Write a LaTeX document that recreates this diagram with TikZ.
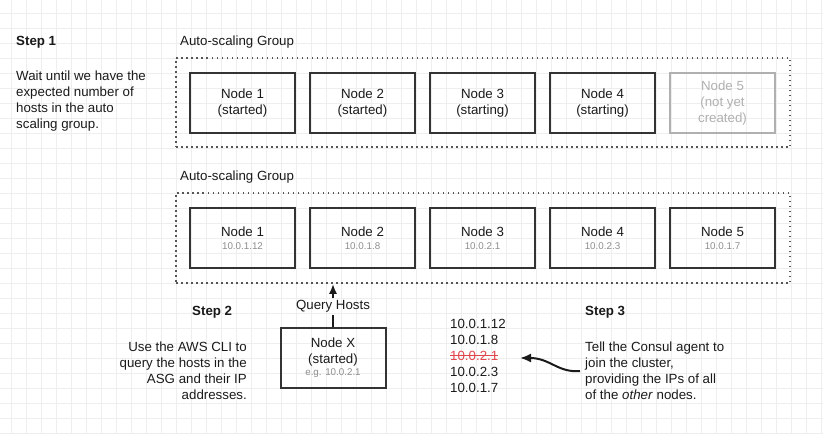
\documentclass[tikz,border=0pt]{standalone}
\usepackage{fontspec}
\setmainfont{Liberation Sans}
\usetikzlibrary{arrows.meta}

\definecolor{ink}{HTML}{1A1A1A}
\definecolor{boxline}{HTML}{333333}
\definecolor{ghost}{HTML}{B0B0B0}
\definecolor{iptext}{HTML}{8C8C8C}
\definecolor{struck}{HTML}{E0474C}
\definecolor{dots}{HTML}{555555}
\definecolor{gridline}{HTML}{EEEEEE}

\newcommand{\bodyfont}{\fontsize{13.3}{16}\selectfont}
\newcommand{\ipfont}{\fontsize{9.8}{12}\selectfont\color{iptext}}

\tikzset{
  hostbox/.style={draw=boxline, line width=2pt, minimum width=105pt,
    minimum height=60pt, inner sep=0pt, align=center, font=\bodyfont, text=ink},
  ghostbox/.style={hostbox, draw=ghost, text=ghost},
  asgframe/.style={draw=dots, line width=1.5pt, dash pattern=on 1.5pt off 3.5pt,
    minimum width=614pt, inner sep=0pt},
  plain/.style={inner sep=0pt, font=\bodyfont, text=ink},
  steptitle/.style={plain, font=\bodyfont\bfseries},
  iprow/.style={plain, anchor=base west},
  link/.style={draw=ink, line width=2pt},
}

\begin{document}
\begin{tikzpicture}[x=1pt,y=1pt,yscale=-1]
\useasboundingbox (0,0) rectangle (823,434);
%background grid
\foreach \gx in {11,26,...,821} \draw[gridline, line width=0.6pt] (\gx,0) -- (\gx,434);
\foreach \gy in {13,28,...,433} \draw[gridline, line width=0.6pt] (0,\gy) -- (823,\gy);
\def\x{120}
\def\ya{103}
\def\yb{238}

%step 1
% Text Node
\draw (16,42) node[steptitle, anchor=west] (s1) {Step 1};
% Text Node
\draw (16,101) node[plain, anchor=west, align=left] (s1body) {Wait until we have the\\expected number of\\hosts in the auto\\scaling group.};

%group 1
\draw (180,42) node[plain, anchor=west] (asg1lbl) {Auto-scaling Group};
\draw (483,102.5) node[asgframe, minimum height=89pt] (asg1) {};
% Text Node
\draw (242.5,\ya) node[hostbox] (a1) {Node 1\\(started)};
% Text Node
\draw (242.5+\x,\ya) node[hostbox] (a2) {Node 2\\(started)};
% Text Node
\draw (242.5+2*\x,\ya) node[hostbox] (a3) {Node 3\\(starting)};
% Text Node
\draw (242.5+3*\x,\ya) node[hostbox] (a4) {Node 4\\(starting)};
% Text Node
\draw (242.5+4*\x,\ya) node[ghostbox] (a5) {Node 5\\(not yet\\created)};

%group 2
\draw (180,177) node[plain, anchor=west] (asg2lbl) {Auto-scaling Group};
\draw (483,238) node[asgframe, minimum height=90pt] (asg2) {};
% Text Node
\draw (242.5,\yb) node[hostbox] (b1) {Node 1\\[-3.2pt]{\ipfont 10.0.1.12}};
% Text Node
\draw (242.5+\x,\yb) node[hostbox] (b2) {Node 2\\[-3.2pt]{\ipfont 10.0.1.8}};
% Text Node
\draw (242.5+2*\x,\yb) node[hostbox] (b3) {Node 3\\[-3.2pt]{\ipfont 10.0.2.1}};
% Text Node
\draw (242.5+3*\x,\yb) node[hostbox] (b4) {Node 4\\[-3.2pt]{\ipfont 10.0.2.3}};
% Text Node
\draw (242.5+4*\x,\yb) node[hostbox] (b5) {Node 5\\[-3.2pt]{\ipfont 10.0.1.7}};

%step 2
\draw (192,312) node[steptitle, anchor=west] (s2) {Step 2};
\draw (247,371) node[plain, anchor=east, align=right] (s2body) {Use the AWS CLI to\\query the hosts in the\\ASG and their IP\\addresses.};
\draw (333,357.7) node[hostbox] (nx) {Node X\\(started)\\[-3.2pt]{\ipfont e.g. 10.0.2.1}};
\draw (333,306.7) node[plain, inner sep=2pt] (qh) {Query Hosts};
\draw[link] (nx.north) -- (qh.south);
\draw[link, -{Latex[length=10pt,width=8pt]}] (qh.north) -- (qh |- asg2.south);

%ip list
\draw (450,328) node[iprow] (ip1) {10.0.1.12};
\draw (450,344) node[iprow] (ip2) {10.0.1.8};
\draw (450,360) node[iprow, text=struck] (ip3) {10.0.2.1};
\draw (450,376) node[iprow] (ip4) {10.0.2.3};
\draw (450,392) node[iprow] (ip5) {10.0.1.7};
\draw[struck, line width=1.2pt] (ip3.west) -- (ip3.east);

%step 3
\draw (585,312) node[steptitle, anchor=west] (s3) {Step 3};
\draw (585,371) node[plain, anchor=west, align=left] (s3body) {Tell the Consul agent to\\join the cluster,\\providing the IPs of all\\of the \textit{other} nodes.};
\coordinate (tip) at (520,358);
\draw[link, -{Latex[length=11pt,width=9pt]}] ([xshift=-5pt]s3body.west) .. controls (558,373) and (550,358) .. (tip);
\end{tikzpicture}
\end{document}
